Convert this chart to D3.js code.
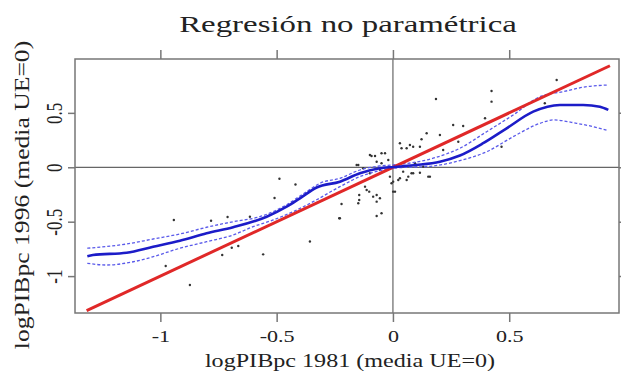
<!DOCTYPE html>
<html>
<head>
<meta charset="utf-8">
<script src="https://cdn.jsdelivr.net/npm/d3@7"></script>
<style>
  body { margin: 0; background: #fff; }
  text { font-family: "Liberation Serif", "DejaVu Serif", serif; fill: #222; }
</style>
</head>
<body>
<script>
// scatter: logPIBpc 1981 (x) vs logPIBpc 1996 (y)
const x1981 = [-0.942, -0.782, -0.711, -0.615, -0.488, -0.419, -0.509, -0.977, -0.873, -0.734,
  -0.693, -0.665, -0.558, -0.357, -0.221, -0.231, -0.156, -0.120, -0.102, -0.085,
  -0.070, -0.056, -0.070, -0.049, -0.070, -0.145, -0.145, -0.049, -0.034, -0.077,
  -0.099, -0.006, 0.001, -0.013, 0.030, 0.073, 0.116, 0.145, 0.202, 0.044,
  0.066, 0.087, 0.116, 0.159, 0.030, 0.185, 0.424, 0.424, 0.704, 0.653,
  0.259, 0.302, 0.396, 0.123, 0.037, 0.059, 0.087, -0.092, -0.049, -0.070,
  0.281, 0.216, 0.467, 0.152, 0.080, 0.059, 0.009, -0.228, -0.113, 0.102,
  0.130, -0.099, -0.128, -0.149, -0.149, -0.056, -0.020, 0.095, 0.023, 0.001]
const y1996 = [-0.484, -0.491, -0.457, -0.454, -0.105, -0.158, -0.282, -0.907, -1.082, -0.806,
  -0.739, -0.723, -0.800, -0.682, -0.337, -0.469, 0.021, -0.178, -0.224, -0.270,
  -0.255, -0.285, -0.316, -0.423, -0.448, -0.255, -0.301, 0.037, 0.129, 0.104,
  0.113, -0.147, -0.224, -0.086, 0.221, 0.205, 0.189, 0.313, 0.297, -0.040,
  -0.086, -0.055, -0.050, -0.086, -0.101, 0.628, 0.701, 0.603, 0.802, 0.588,
  0.389, 0.380, 0.450, 0.257, 0.175, 0.175, 0.189, 0.104, 0.129, 0.051,
  0.235, 0.159, 0.189, -0.086, -0.055, -0.117, -0.224, -0.469, -0.209, 0.021,
  0.006, -0.055, -0.009, 0.021, -0.331, -0.024, 0.067, 0.037, -0.117, -0.132]

// nonparametric fit and its bands
const fitX = [-1.314, -1.290, -1.145, -1.031, -0.916, -0.801, -0.687, -0.543, -0.457, -0.400,
  -0.328, -0.228, -0.142, -0.056, 0.001, 0.102, 0.202, 0.288, 0.388, 0.489,
  0.603, 0.718, 0.818, 0.890, 0.926]
const fitY = [-0.817, -0.806, -0.785, -0.730, -0.675, -0.607, -0.551, -0.454, -0.362, -0.285,
  -0.186, -0.132, -0.055, -0.009, 0.003, 0.021, 0.051, 0.108, 0.221, 0.358,
  0.511, 0.573, 0.573, 0.557, 0.527]
const upX = [-1.314, -1.145, -1.031, -0.916, -0.801, -0.687, -0.572, -0.472, -0.371, -0.314,
  -0.228, -0.142, -0.056, 0.001, 0.173, 0.288, 0.403, 0.517, 0.632, 0.732, 0.833, 0.926]
const upY = [-0.744, -0.705, -0.659, -0.613, -0.551, -0.500, -0.454, -0.362, -0.224, -0.147,
  -0.101, -0.025, 0.012, 0.021, 0.083, 0.175, 0.327, 0.481, 0.649, 0.695, 0.741, 0.756]
const loX = [-1.314, -1.231, -1.116, -1.031, -0.916, -0.801, -0.687, -0.601, -0.515, -0.429,
  -0.343, -0.228, -0.142, -0.056, 0.001, 0.173, 0.288, 0.403, 0.517, 0.632,
  0.689, 0.790, 0.890, 0.926]
const loY = [-0.882, -0.898, -0.868, -0.822, -0.744, -0.684, -0.622, -0.546, -0.484, -0.408,
  -0.316, -0.178, -0.086, -0.031, -0.009, 0.012, 0.061, 0.143, 0.281, 0.404,
  0.435, 0.404, 0.358, 0.336]

// 45 degree line ends
const diag = [-1.317, 0.933]

const xTicks = [-1, -0.5, 0, 0.5]
const yTicks = [-1, -0.5, 0, 0.5]

const title = 'Regresión no paramétrica'
const xAxisLabel = 'logPIBpc 1981 (media UE=0)'
const yAxisLabel = 'logPIBpc 1996 (media UE=0)'

const width = 621
const height = 376
const box = { left: 75, right: 619, top: 59, bottom: 313 }

// the source picture is widened, so text gets a horizontal stretch
const widen = 1.3

const svg = d3.select('body').append('svg')
  .attr('width', width)
  .attr('height', height)

const xScale = d3.scaleLinear().domain([-1.367, 0.972]).range([box.left, box.right])
const yScale = d3.scaleLinear().domain([-1.339, 0.995]).range([box.bottom, box.top])

const fmt = d => String(d)

// zero lines
svg.append('line')
  .attr('x1', box.left).attr('x2', box.right)
  .attr('y1', yScale(0)).attr('y2', yScale(0))
  .attr('stroke', '#666').attr('stroke-width', 1.2)
svg.append('line')
  .attr('x1', xScale(0)).attr('x2', xScale(0))
  .attr('y1', box.top).attr('y2', box.bottom)
  .attr('stroke', '#666').attr('stroke-width', 1.2)

// points
const pts = x1981.map((x, i) => ({ x, y: y1996[i] }))
svg.append('g')
  .selectAll('circle')
  .data(pts)
  .enter()
  .append('circle')
  .attr('cx', d => xScale(d.x))
  .attr('cy', d => yScale(d.y))
  .attr('r', 1.2)
  .attr('fill', '#333')

// bands
const line = d3.line()
  .x(d => xScale(d[0]))
  .y(d => yScale(d[1]))
  .curve(d3.curveMonotoneX)

const zip = (a, b) => a.map((v, i) => [v, b[i]])

svg.append('path')
  .datum(zip(upX, upY))
  .attr('d', line)
  .attr('fill', 'none')
  .attr('stroke', '#5a5aea')
  .attr('stroke-width', 1.3)
  .attr('stroke-dasharray', '3,2')

svg.append('path')
  .datum(zip(loX, loY))
  .attr('d', line)
  .attr('fill', 'none')
  .attr('stroke', '#5a5aea')
  .attr('stroke-width', 1.3)
  .attr('stroke-dasharray', '3,2')

// red 45 degree line
svg.append('path')
  .datum(diag.map(v => [v, v]))
  .attr('d', d3.line().x(d => xScale(d[0])).y(d => yScale(d[1])))
  .attr('stroke', '#e02828')
  .attr('stroke-width', 3)

// fitted curve
svg.append('path')
  .datum(zip(fitX, fitY))
  .attr('d', line)
  .attr('fill', 'none')
  .attr('stroke', '#1c1cc8')
  .attr('stroke-width', 2.6)

// axes
const axisStyle = g => {
  g.select('.domain').remove()
  g.selectAll('.tick line').attr('stroke', '#777').attr('stroke-width', 1.5)
}

svg.append('g')
  .attr('transform', `translate(0, ${box.bottom})`)
  .call(d3.axisBottom(xScale).tickValues(xTicks).tickSize(9).tickFormat(fmt))
  .call(axisStyle)
  .call(g => g.selectAll('.tick text')
    .attr('y', 0).attr('dy', 0)
    .attr('transform', `translate(0, 29) scale(${widen}, 1)`)
    .style('font-size', '17px'))

svg.append('g')
  .attr('transform', `translate(0, ${box.top})`)
  .call(d3.axisTop(xScale).tickValues(xTicks).tickSize(9).tickFormat(''))
  .call(axisStyle)

svg.append('g')
  .attr('transform', `translate(${box.right}, 0)`)
  .call(d3.axisRight(yScale).tickValues(yTicks).tickSize(7).tickFormat(''))
  .call(axisStyle)

svg.append('g')
  .attr('transform', `translate(${box.left}, 0)`)
  .call(d3.axisLeft(yScale).tickValues(yTicks).tickSize(7).tickFormat(fmt))
  .call(axisStyle)
  .call(g => g.selectAll('.tick text')
    .attr('x', 0).attr('dy', 0)
    .attr('text-anchor', 'middle')
    .attr('transform', `translate(-13, 0) rotate(-90) scale(1, ${widen})`)
    .style('font-size', '17px'))

// box
svg.append('rect')
  .attr('x', box.left).attr('y', box.top)
  .attr('width', box.right - box.left).attr('height', box.bottom - box.top)
  .attr('fill', 'none')
  .attr('stroke', '#777')
  .attr('stroke-width', 1.5)

// title and labels
svg.append('text')
  .attr('transform', 'translate(348, 32) scale(1.43, 1)')
  .attr('text-anchor', 'middle')
  .style('font-size', '23px')
  .text(title)

svg.append('text')
  .attr('transform', 'translate(350, 367) scale(1.27, 1)')
  .attr('text-anchor', 'middle')
  .style('font-size', '19px')
  .text(xAxisLabel)

svg.append('text')
  .attr('transform', 'translate(29, 195) rotate(-90) scale(1.35, 1.1)')
  .attr('text-anchor', 'middle')
  .style('font-size', '19px')
  .text(yAxisLabel)
</script>
</body>
</html>
